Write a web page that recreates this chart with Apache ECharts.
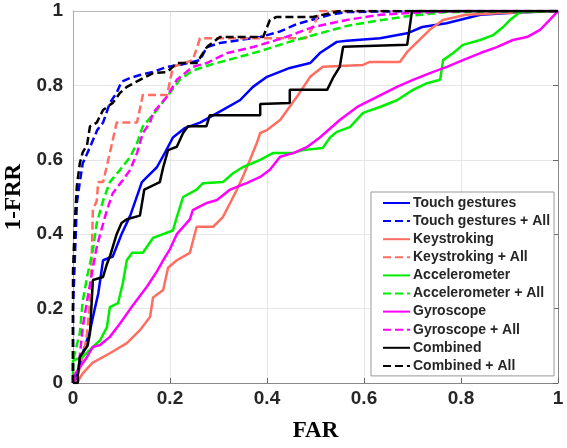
<!DOCTYPE html>
<html>
<head>
<meta charset="utf-8">
<script src="https://cdn.jsdelivr.net/npm/echarts@6/dist/echarts.min.js"></script>
<style>
  html, body { margin: 0; padding: 0; background: #fff; }
  #chart { width: 567px; height: 448px; }
</style>
</head>
<body>
<div id="chart"></div>
<script>
// ROC curves, [FAR, 1-FRR] pairs
const touch = [[0,0],[0.01,0.03],[0.02,0.08],[0.035,0.14],[0.045,0.2],[0.052,0.24],[0.062,0.33],[0.082,0.34],[0.1,0.4],[0.118,0.45],[0.142,0.54],[0.173,0.58],[0.19,0.62],[0.206,0.66],[0.23,0.685],[0.262,0.7],[0.309,0.734],[0.344,0.76],[0.371,0.796],[0.4,0.823],[0.447,0.847],[0.489,0.86],[0.509,0.887],[0.544,0.917],[0.565,0.92],[0.633,0.927],[0.689,0.94],[0.72,0.957],[0.77,0.967],[0.84,0.99],[0.907,0.995],[1,1]];
const touchAll = [[0,0],[0,0.2],[0.004,0.34],[0.008,0.484],[0.014,0.54],[0.02,0.59],[0.035,0.634],[0.05,0.68],[0.062,0.7],[0.076,0.753],[0.09,0.78],[0.1,0.81],[0.118,0.82],[0.138,0.828],[0.165,0.836],[0.194,0.85],[0.22,0.855],[0.262,0.868],[0.276,0.903],[0.303,0.914],[0.344,0.922],[0.386,0.93],[0.427,0.945],[0.462,0.965],[0.53,0.99],[0.565,0.997],[0.7,1],[1,1]];
const keys = [[0,0],[0.008,0],[0.02,0.026],[0.04,0.054],[0.076,0.08],[0.111,0.107],[0.138,0.142],[0.159,0.178],[0.165,0.23],[0.186,0.25],[0.196,0.31],[0.214,0.33],[0.241,0.35],[0.255,0.42],[0.289,0.42],[0.309,0.446],[0.324,0.484],[0.338,0.52],[0.35,0.554],[0.365,0.6],[0.379,0.645],[0.386,0.672],[0.4,0.68],[0.427,0.707],[0.462,0.77],[0.489,0.823],[0.515,0.85],[0.598,0.855],[0.612,0.863],[0.674,0.863],[0.689,0.89],[0.736,0.95],[0.763,0.976],[0.81,0.99],[0.895,0.995],[1,1]];
const keysAll = [[0,0],[0.01,0.02],[0.025,0.1],[0.029,0.134],[0.035,0.22],[0.039,0.357],[0.041,0.465],[0.049,0.49],[0.052,0.54],[0.062,0.54],[0.076,0.618],[0.09,0.7],[0.132,0.7],[0.144,0.774],[0.194,0.774],[0.206,0.85],[0.247,0.868],[0.262,0.927],[0.48,0.927],[0.495,0.957],[0.509,1],[1,1]];
const accel = [[0,0],[0,0.06],[0.02,0.07],[0.041,0.097],[0.056,0.115],[0.07,0.15],[0.076,0.204],[0.093,0.215],[0.103,0.27],[0.111,0.33],[0.122,0.35],[0.144,0.35],[0.165,0.39],[0.206,0.41],[0.214,0.446],[0.227,0.5],[0.255,0.52],[0.268,0.537],[0.309,0.54],[0.33,0.564],[0.35,0.58],[0.386,0.6],[0.412,0.618],[0.454,0.618],[0.474,0.626],[0.515,0.632],[0.53,0.66],[0.544,0.675],[0.571,0.688],[0.598,0.726],[0.633,0.742],[0.668,0.76],[0.701,0.788],[0.73,0.806],[0.757,0.815],[0.763,0.868],[0.784,0.887],[0.804,0.909],[0.84,0.922],[0.866,0.935],[0.887,0.957],[0.901,0.976],[0.922,0.997],[1,1]];
const accelAll = [[0,0],[0,0.06],[0.014,0.134],[0.02,0.22],[0.029,0.285],[0.041,0.357],[0.049,0.43],[0.062,0.49],[0.076,0.54],[0.097,0.573],[0.118,0.608],[0.132,0.645],[0.144,0.69],[0.173,0.734],[0.194,0.77],[0.22,0.815],[0.247,0.84],[0.282,0.855],[0.33,0.872],[0.386,0.892],[0.441,0.915],[0.495,0.935],[0.565,0.96],[0.633,0.975],[0.701,0.988],[0.77,0.997],[1,1]];
const gyro = [[0,0],[0,0.016],[0.029,0.07],[0.041,0.097],[0.056,0.102],[0.076,0.124],[0.097,0.16],[0.124,0.21],[0.153,0.26],[0.173,0.3],[0.186,0.33],[0.2,0.36],[0.214,0.4],[0.241,0.44],[0.247,0.465],[0.276,0.484],[0.297,0.492],[0.324,0.52],[0.359,0.538],[0.386,0.554],[0.406,0.573],[0.427,0.608],[0.454,0.618],[0.482,0.634],[0.509,0.66],[0.55,0.707],[0.586,0.742],[0.627,0.769],[0.668,0.796],[0.701,0.815],[0.736,0.833],[0.771,0.85],[0.804,0.868],[0.84,0.887],[0.874,0.903],[0.907,0.922],[0.936,0.93],[0.963,0.949],[0.983,0.976],[1,1]];
const gyroAll = [[0,0],[0.01,0.02],[0.02,0.15],[0.029,0.22],[0.041,0.31],[0.048,0.36],[0.056,0.4],[0.07,0.465],[0.082,0.51],[0.103,0.546],[0.118,0.573],[0.132,0.618],[0.144,0.672],[0.159,0.7],[0.165,0.726],[0.194,0.77],[0.214,0.815],[0.247,0.85],[0.276,0.86],[0.318,0.887],[0.371,0.903],[0.433,0.927],[0.495,0.957],[0.565,0.976],[0.633,0.99],[0.701,0.995],[0.8,1],[1,1]];
const combined = [[0,0],[0.01,0],[0.01,0.02],[0.014,0.07],[0.03,0.1],[0.035,0.134],[0.041,0.277],[0.062,0.285],[0.07,0.32],[0.076,0.34],[0.09,0.4],[0.1,0.43],[0.111,0.44],[0.138,0.45],[0.147,0.52],[0.179,0.54],[0.186,0.58],[0.196,0.626],[0.214,0.635],[0.227,0.672],[0.237,0.69],[0.275,0.69],[0.282,0.72],[0.386,0.72],[0.386,0.75],[0.447,0.753],[0.447,0.788],[0.524,0.788],[0.536,0.82],[0.55,0.85],[0.557,0.904],[0.689,0.909],[0.699,1],[1,1]];
const combinedAll = [[0,0],[0,0.3],[0.004,0.44],[0.008,0.53],[0.014,0.59],[0.02,0.62],[0.029,0.64],[0.035,0.69],[0.049,0.7],[0.062,0.734],[0.082,0.753],[0.097,0.78],[0.111,0.796],[0.138,0.815],[0.165,0.833],[0.194,0.836],[0.214,0.86],[0.255,0.86],[0.276,0.903],[0.303,0.93],[0.392,0.93],[0.406,0.976],[0.42,0.984],[0.495,0.984],[0.55,1],[1,1]];

const names = ["Touch gestures", "Touch gestures + All", "Keystroking", "Keystroking + All",
  "Accelerometer", "Accelerometer + All", "Gyroscope", "Gyroscope + All", "Combined", "Combined + All"];
const curves = [touch, touchAll, keys, keysAll, accel, accelAll, gyro, gyroAll, combined, combinedAll];
const colors = ["#0000ff", "#0000ff", "#ff6e61", "#ff6e61", "#00ee00", "#00ee00",
  "#ff00ff", "#ff00ff", "#000000", "#000000"];

const chart = echarts.init(document.getElementById("chart"));

const tickLabel = { fontSize: 19, fontWeight: "bold", color: "#262626", fontFamily: "Liberation Sans" };
const nameStyle = { fontSize: 23, fontWeight: "bold", color: "#000", fontFamily: "Liberation Serif" };

const option = {
  animation: false,
  grid: { left: 73, right: 9, top: 11, bottom: 65, outerBoundsMode: "none" },
  legend: {
    orient: "vertical",
    left: 371,
    top: 192,
    padding: [4, 4, 3, 11],
    itemWidth: 27,
    itemHeight: 14,
    itemGap: 4.1,
    backgroundColor: "#fff",
    borderColor: "#999",
    borderWidth: 1,
    borderRadius: 0,
    itemStyle: { opacity: 0 },
    data: names,
    textStyle: { fontSize: 14, lineHeight: 14, fontWeight: "bold", color: "#262626", fontFamily: "Liberation Sans", padding: [0, 0, 0, -2] },
  },
  xAxis: [
    {
      type: "value",
      min: 0,
      max: 1,
      interval: 0.2,
      name: "FAR",
      nameLocation: "middle",
      nameGap: 37,
      nameTextStyle: nameStyle,
      axisLine: { lineStyle: { color: "#888" } },
      axisTick: { inside: true, length: 5, lineStyle: { color: "#666" } },
      axisLabel: Object.assign({ margin: 6 }, tickLabel),
      splitLine: { show: true, lineStyle: { color: "#e6e6e6" } },
    },
    {
      type: "value",
      position: "top",
      min: 0,
      max: 1,
      interval: 0.2,
      axisLine: { show: true, onZero: false, lineStyle: { color: "#bbb" } },
      axisTick: { show: false },
      axisLabel: { show: false },
      splitLine: { show: false },
    },
  ],
  yAxis: [
    {
      type: "value",
      min: 0,
      max: 1,
      interval: 0.2,
      name: "1-FRR",
      nameLocation: "middle",
      nameGap: 46,
      nameTextStyle: nameStyle,
      axisLine: { show: true, lineStyle: { color: "#aaa" } },
      axisTick: { show: false },
      axisLabel: Object.assign({ margin: 10 }, tickLabel),
      splitLine: { show: true, lineStyle: { color: "#e6e6e6" } },
    },
    {
      type: "value",
      position: "right",
      min: 0,
      max: 1,
      interval: 0.2,
      axisLine: { show: true, onZero: false, lineStyle: { color: "#888" } },
      axisTick: { show: true, inside: true, length: 5, lineStyle: { color: "#666" } },
      axisLabel: { show: false },
      splitLine: { show: false },
    },
  ],
  series: names.map((n, i) => ({
    name: n,
    type: "line",
    data: curves[i],
    symbol: "none",
    color: colors[i],
    lineStyle: {
      width: 2.5,
      color: colors[i],
      type: i % 2 === 1 ? [8, 4] : "solid",
    },
  })),
};

chart.setOption(option);
</script>
</body>
</html>
